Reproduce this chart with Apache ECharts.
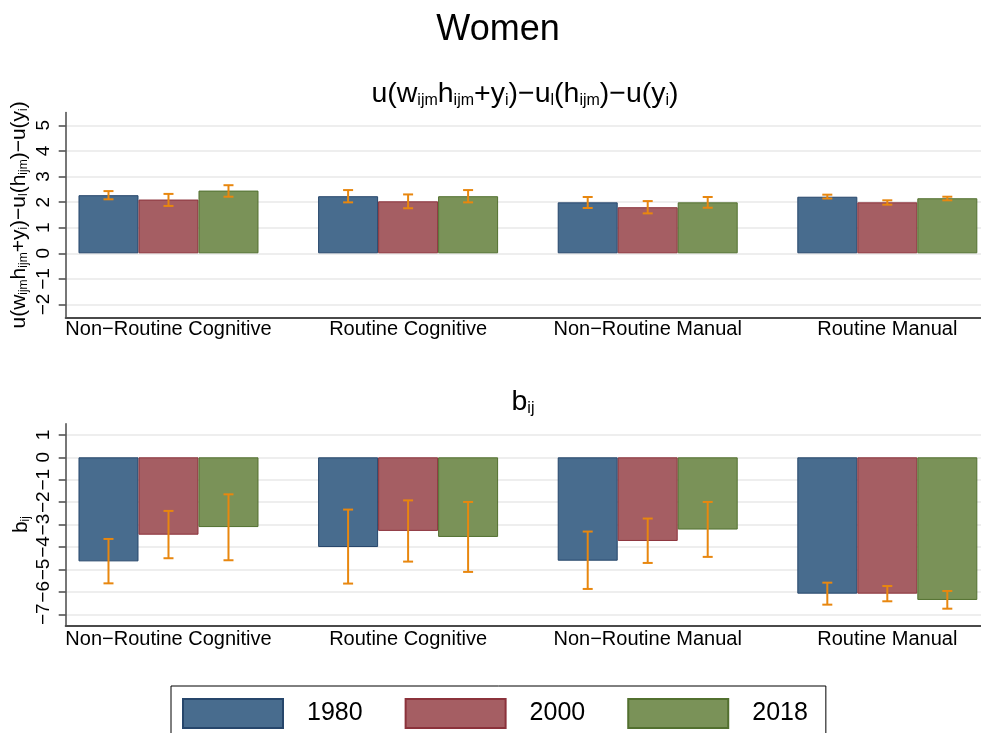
<!DOCTYPE html>
<html>
<head>
<meta charset="utf-8">
<script src="https://cdn.jsdelivr.net/npm/echarts@6/dist/echarts.min.js"></script>
<style>
  html, body { margin: 0; padding: 0; background: #ffffff; }
  #chart { width: 981px; height: 733px; }
</style>
</head>
<body>
<div id="chart"></div>
<script>
// Occupation groups and survey years
const categories = ['Non\u2212Routine Cognitive', 'Routine Cognitive', 'Non\u2212Routine Manual', 'Routine Manual'];
const years = ['1980', '2000', '2018'];

// Upper panel: u(w h + y) - u_l(h) - u(y), point estimates and 95% bands
const util1980 = [2.27, 2.23, 1.99, 2.21];
const util2000 = [2.10, 2.03, 1.80, 1.99];
const util2018 = [2.45, 2.23, 1.99, 2.15];
const utilLow1980 = [2.11, 1.99, 1.77, 2.14];
const utilHigh1980 = [2.43, 2.47, 2.20, 2.29];
const utilLow2000 = [1.85, 1.76, 1.56, 1.90];
const utilHigh2000 = [2.32, 2.30, 2.04, 2.07];
const utilLow2018 = [2.21, 1.99, 1.78, 2.07];
const utilHigh2018 = [2.66, 2.47, 2.20, 2.21];

// Lower panel: b_ij, point estimates and 95% bands
const b1980 = [-4.64, -4.00, -4.61, -6.08];
const b2000 = [-3.45, -3.28, -3.73, -6.08];
const b2018 = [-3.11, -3.55, -3.22, -6.36];
const bLow1980 = [-5.62, -5.63, -5.87, -6.57];
const bHigh1980 = [-3.64, -2.33, -3.31, -5.59];
const bLow2000 = [-4.50, -4.65, -4.71, -6.42];
const bHigh2000 = [-2.39, -1.92, -2.73, -5.74];
const bLow2018 = [-4.59, -5.11, -4.44, -6.75];
const bHigh2018 = [-1.65, -1.99, -1.99, -5.96];

// Tick labels
const utilTicks = [-2, -1, 0, 1, 2, 3, 4, 5];
const bTicks = [-7, -6, -5, -4, -3, -2, -1, 0, 1];

const FONT = 'Liberation Sans';
const BAR_W = 60;
const fills = ['#486c8e', '#a55e63', '#7a9258'];
const edges = ['#26466b', '#8b323b', '#52702f'];
const errColor = '#e8870f';
const catPos = categories.map((c, i) => i + 1);

// Rich-text helper: alternating normal / subscript pieces
function formula(parts) {
  return parts.map((p, i) => (i % 2 === 0 ? '{n|' : '{s|') + p + '}').join('');
}
function richStyle(main, sub, drop) {
  return {
    n: { fontFamily: FONT, fontSize: main, fontWeight: 'normal', lineHeight: main, verticalAlign: 'top', padding: [0, 0, drop, 0], color: '#000' },
    s: { fontFamily: FONT, fontSize: sub, fontWeight: 'normal', lineHeight: sub, verticalAlign: 'bottom', color: '#000' }
  };
}
const utilFormula = formula(['u(w', 'ijm', 'h', 'ijm', '+y', 'i', ')\u2212u', 'l', '(h', 'ijm', ')\u2212u(y', 'i', ')']);
const bFormula = formula(['b', 'ij']);

const minus = v => String(v).replace('-', '\u2212');

function pairs(vals) { return vals.map((v, i) => [catPos[i], v]); }
function bands(lo, hi) { return lo.map((v, i) => [catPos[i], v, hi[i]]); }

// X extent placing group centres 239.6px apart with the plot running from the y axis to the right edge
const X_MIN = 0.571, X_MAX = 4.391;

function xAxis(gridIndex, margin) {
  return {
    type: 'value', gridIndex, min: X_MIN, max: X_MAX,
    axisLine: { show: true, onZero: false, lineStyle: { color: '#4a4a4a', width: 2 } },
    axisTick: { show: false },
    splitLine: { show: false },
    axisLabel: {
      customValues: catPos, margin,
      formatter: v => categories[Math.round(v) - 1] || '',
      fontFamily: FONT, fontSize: 20, color: '#000'
    }
  };
}
function yAxis(gridIndex, min, max, ticks, name, nameGap, rich) {
  return {
    type: 'value', gridIndex, min, max,
    name, nameLocation: 'middle', nameRotate: 90, nameGap, nameMoveOverlap: false,
    nameTextStyle: { rich },
    axisLine: { show: true, onZero: false, lineStyle: { color: '#4a4a4a', width: 1.5 } },
    axisTick: { show: true, customValues: ticks, length: 7, lineStyle: { color: '#4a4a4a', width: 1.5 } },
    axisLabel: {
      customValues: ticks, rotate: 90, margin: 12,
      showMinLabel: true, showMaxLabel: true, hideOverlap: false,
      formatter: v => minus(v),
      fontFamily: FONT, fontSize: 19, color: '#000'
    },
    splitLine: { show: true, lineStyle: { color: '#e9e9e9', width: 1.5 } }
  };
}

function barSeries(name, idx, vals, axisIndex) {
  return {
    type: 'bar', name, xAxisIndex: axisIndex, yAxisIndex: axisIndex,
    data: pairs(vals), barWidth: BAR_W, barGap: '0%',
    itemStyle: { color: fills[idx], borderColor: edges[idx], borderWidth: 1 },
    emphasis: { disabled: true }, z: 2
  };
}
function errSeries(name, idx, lo, hi, axisIndex) {
  const shift = (idx - 1) * BAR_W;
  return {
    type: 'custom', name: name + ' CI', xAxisIndex: axisIndex, yAxisIndex: axisIndex,
    data: bands(lo, hi), z: 5, silent: true,
    renderItem: (params, api) => {
      const a = api.coord([api.value(0), api.value(1)]);
      const b = api.coord([api.value(0), api.value(2)]);
      const x = a[0] + shift;
      const half = 5;
      const style = { stroke: errColor, lineWidth: 2 };
      return {
        type: 'group',
        children: [
          { type: 'line', shape: { x1: x, y1: a[1], x2: x, y2: b[1] }, style },
          { type: 'line', shape: { x1: x - half, y1: a[1], x2: x + half, y2: a[1] }, style },
          { type: 'line', shape: { x1: x - half, y1: b[1], x2: x + half, y2: b[1] }, style }
        ]
      };
    }
  };
}

const utilVals = [util1980, util2000, util2018];
const utilLows = [utilLow1980, utilLow2000, utilLow2018];
const utilHighs = [utilHigh1980, utilHigh2000, utilHigh2018];
const bVals = [b1980, b2000, b2018];
const bLows = [bLow1980, bLow2000, bLow2018];
const bHighs = [bHigh1980, bHigh2000, bHigh2018];

const series = [];
years.forEach((y, i) => series.push(barSeries(y, i, utilVals[i], 0)));
years.forEach((y, i) => series.push(barSeries(y, i, bVals[i], 1)));
years.forEach((y, i) => series.push(errSeries(y, i, utilLows[i], utilHighs[i], 0)));
years.forEach((y, i) => series.push(errSeries(y, i, bLows[i], bHighs[i], 1)));

const chart = echarts.init(document.getElementById('chart'), null, { renderer: 'canvas' });
chart.setOption({
  backgroundColor: '#ffffff',
  animation: false,
  title: [
    { text: 'Women', left: 498, top: 12, textAlign: 'center', padding: 0,
      textStyle: { fontFamily: FONT, fontSize: 36, fontWeight: 'normal', color: '#000' } },
    { text: utilFormula, left: 525, top: 80, textAlign: 'center', padding: 0,
      textStyle: { fontWeight: 'normal', rich: richStyle(28.5, 16, 3) } },
    { text: bFormula, left: 523, top: 388, textAlign: 'center', padding: 0,
      textStyle: { fontWeight: 'normal', rich: richStyle(28.5, 16, 3) } }
  ],
  legend: {
    data: years, left: 171, top: 686, orient: 'horizontal',
    icon: 'rect', itemWidth: 100, itemHeight: 29, itemGap: 42,
    padding: [12, 18, 14, 11],
    borderColor: '#000', borderWidth: 1,
    selectedMode: false,
    textStyle: { fontFamily: FONT, fontSize: 25, color: '#000', padding: [0, 0, 0, 19] }
  },
  grid: [
    { left: 65.7, right: 0, top: 112.5, height: 204.8, containLabel: false, outerBoundsMode: 'none' },
    { left: 65.7, right: 0, top: 423.7, height: 201.8, containLabel: false, outerBoundsMode: 'none' }
  ],
  xAxis: [xAxis(0, 2), xAxis(1, 3.5)],
  yAxis: [
    yAxis(0, -2.5, 5.5, utilTicks, utilFormula, 36, richStyle(21, 12, 2)),
    yAxis(1, -7.5, 1.5, bTicks, bFormula, 34, richStyle(21, 12, 2))
  ],
  series
});
</script>
</body>
</html>
